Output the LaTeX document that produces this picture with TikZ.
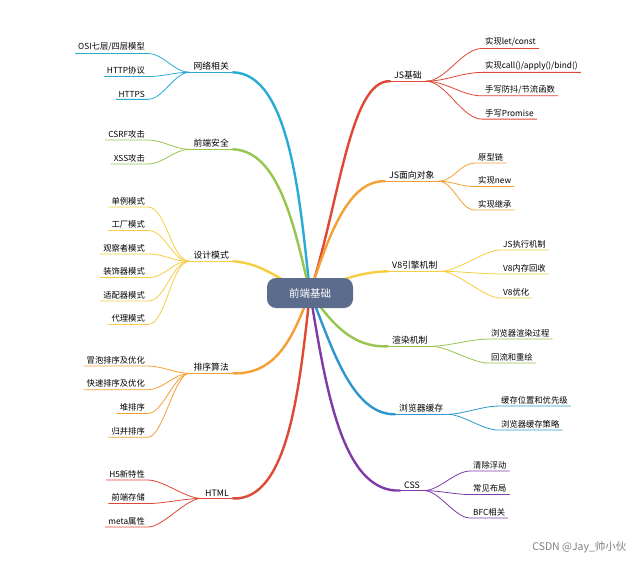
\documentclass[tikz,border=0pt]{standalone}
\usepackage{fontspec}
\setmainfont{Noto Sans CJK SC}
\usetikzlibrary{positioning}
\definecolor{cred}{RGB}{222,72,52}
\definecolor{corange}{RGB}{244,160,52}
\definecolor{cyellow}{RGB}{246,206,64}
\definecolor{cgreen}{RGB}{150,198,78}
\definecolor{cblue}{RGB}{46,150,206}
\definecolor{cpurple}{RGB}{128,58,168}
\definecolor{ccyan}{RGB}{40,172,212}
\definecolor{ccore}{RGB}{92,108,140}
\tikzset{
  leaf/.style={font=\fontsize{8.3}{10}\selectfont, inner sep=2pt, inner xsep=3pt},
  branch/.style={font=\fontsize{8.8}{10}\selectfont, inner sep=2pt, inner xsep=4pt},
  trunk/.style={line width=2.4pt, line cap=round},
  twig/.style={line width=0.8pt},
}
\begin{document}
\begin{tikzpicture}[x=1pt,y=-1pt]
\useasboundingbox (0,0) rectangle (640,566);
\fill[white] (0,0) rectangle (640,566);
\coordinate (core) at (310,293);

% right side
\node [branch,anchor=west] (jsb) at (390,75) {JS基础};
\draw [trunk,cred] (core) .. controls (340,200) and (350,80) .. (jsb.south west);
\draw [twig,cred] (jsb.south west) -- (jsb.south east);
\foreach \t [count=\i] in {实现let/const,实现call()/apply()/bind(),手写防抖/节流函数,手写Promise} {
  \node [leaf,anchor=west] (jsb-\i) at (482,{42+23.7*(\i-1)}) {\t};
  \draw [twig,cred] (jsb.south east) .. controls +(20,0) and +(-20,0) .. (jsb-\i.south west) -- (jsb-\i.south east);
}

\node [branch,anchor=west] (oop) at (385,175) {JS面向对象};
\draw [trunk,corange] (core) .. controls (330,230) and (350,180) .. (oop.south west);
\draw [twig,corange] (oop.south west) -- (oop.south east);
\foreach \t [count=\i] in {原型链,实现new,实现继承} {
  \node [leaf,anchor=west] (oop-\i) at (475,{157+23.5*(\i-1)}) {\t};
  \draw [twig,corange] (oop.south east) .. controls +(15,0) and +(-15,0) .. (oop-\i.south west) -- (oop-\i.south east);
}

\node [branch,anchor=west] (veight) at (388,265) {V8引擎机制};
\draw [trunk,cyellow] (core) .. controls (340,280) and (360,272) .. (veight.south west);
\draw [twig,cyellow] (veight.south west) -- (veight.south east);
\foreach \t [count=\i] in {JS执行机制,V8内存回收,V8优化} {
  \node [leaf,anchor=west] (veight-\i) at (500,{244+24*(\i-1)}) {\t};
  \draw [twig,cyellow] (veight.south east) .. controls +(15,0) and +(-15,0) .. (veight-\i.south west) -- (veight-\i.south east);
}

\node [branch,anchor=west] (render) at (388,340) {渲染机制};
\draw [trunk,cgreen] (core) .. controls (330,320) and (350,348) .. (render.south west);
\draw [twig,cgreen] (render.south west) -- (render.south east);
\foreach \t [count=\i] in {浏览器渲染过程,回流和重绘} {
  \node [leaf,anchor=west] (render-\i) at (488,{333+24*(\i-1)}) {\t};
  \draw [twig,cgreen] (render.south east) .. controls +(15,0) and +(-15,0) .. (render-\i.south west) -- (render-\i.south east);
}

\node [branch,anchor=west] (cache) at (395,408) {浏览器缓存};
\draw [trunk,cblue] (core) .. controls (330,340) and (350,415) .. (cache.south west);
\draw [twig,cblue] (cache.south west) -- (cache.south east);
\foreach \t [count=\i] in {缓存位置和优先级,浏览器缓存策略} {
  \node [leaf,anchor=west] (cache-\i) at (498,{400+24*(\i-1)}) {\t};
  \draw [twig,cblue] (cache.south east) .. controls +(15,0) and +(-15,0) .. (cache-\i.south west) -- (cache-\i.south east);
}

\node [branch,anchor=west] (css) at (400,485) {CSS};
\draw [trunk,cpurple] (core) .. controls (325,380) and (340,493) .. (css.south west);
\draw [twig,cpurple] (css.south west) -- (css.south east);
\foreach \t [count=\i] in {清除浮动,常见布局,BFC相关} {
  \node [leaf,anchor=west] (css-\i) at (470,{465+23.5*(\i-1)}) {\t};
  \draw [twig,cpurple] (css.south east) .. controls +(15,0) and +(-15,0) .. (css-\i.south west) -- (css-\i.south east);
}

% left side
\node [branch,anchor=east] (net) at (233,66) {网络相关};
\draw [trunk,ccyan] (core) .. controls (300,200) and (290,74) .. (net.south east);
\draw [twig,ccyan] (net.south west) -- (net.south east);
\foreach \t [count=\i] in {OSI七层/四层模型,HTTP协议,HTTPS} {
  \node [leaf,anchor=east] (net-\i) at (148,{47+23.5*(\i-1)}) {\t};
  \draw [twig,ccyan] (net.south west) .. controls +(-15,0) and +(15,0) .. (net-\i.south east) -- (net-\i.south west);
}

\node [branch,anchor=east] (sec) at (233,143) {前端安全};
\draw [trunk,cgreen] (core) .. controls (295,230) and (280,151) .. (sec.south east);
\draw [twig,cgreen] (sec.south west) -- (sec.south east);
\foreach \t [count=\i] in {CSRF攻击,XSS攻击} {
  \node [leaf,anchor=east] (sec-\i) at (148,{134+24*(\i-1)}) {\t};
  \draw [twig,cgreen] (sec.south west) .. controls +(-15,0) and +(15,0) .. (sec-\i.south east) -- (sec-\i.south west);
}

\node [branch,anchor=east] (pat) at (233,255) {设计模式};
\draw [trunk,cyellow] (core) .. controls (285,285) and (265,263) .. (pat.south east);
\draw [twig,cyellow] (pat.south west) -- (pat.south east);
\foreach \t [count=\i] in {单例模式,工厂模式,观察者模式,装饰器模式,适配器模式,代理模式} {
  \node [leaf,anchor=east] (pat-\i) at (148,{201+23.5*(\i-1)}) {\t};
  \draw [twig,cyellow] (pat.south west) .. controls +(-18,0) and +(18,0) .. (pat-\i.south east) -- (pat-\i.south west);
}

\node [branch,anchor=east] (sort) at (233,367) {排序算法};
\draw [trunk,corange] (core) .. controls (295,330) and (280,375) .. (sort.south east);
\draw [twig,corange] (sort.south west) -- (sort.south east);
\foreach \t [count=\i] in {冒泡排序及优化,快速排序及优化,堆排序,归并排序} {
  \node [leaf,anchor=east] (sort-\i) at (148,{360+23.7*(\i-1)}) {\t};
  \draw [twig,corange] (sort.south west) .. controls +(-15,0) and +(15,0) .. (sort-\i.south east) -- (sort-\i.south west);
}

\node [branch,anchor=east] (html) at (233,493) {HTML};
\draw [trunk,cred] (core) .. controls (300,380) and (290,501) .. (html.south east);
\draw [twig,cred] (html.south west) -- (html.south east);
\foreach \t [count=\i] in {H5新特性,前端存储,meta属性} {
  \node [leaf,anchor=east] (html-\i) at (148,{474+23.5*(\i-1)}) {\t};
  \draw [twig,cred] (html.south west) .. controls +(-15,0) and +(15,0) .. (html-\i.south east) -- (html-\i.south west);
}

% centre
\node [fill=ccore, text=white, rounded corners=9pt, minimum width=86pt, minimum height=30pt,
  font=\fontsize{10.5}{12}\selectfont] (root) at (core) {前端基础};

\node [text=gray, font=\fontsize{10.5}{12}\selectfont, anchor=east] (mark) at (630,547) {CSDN @Jay\_帅小伙};
\end{tikzpicture}
\end{document}
